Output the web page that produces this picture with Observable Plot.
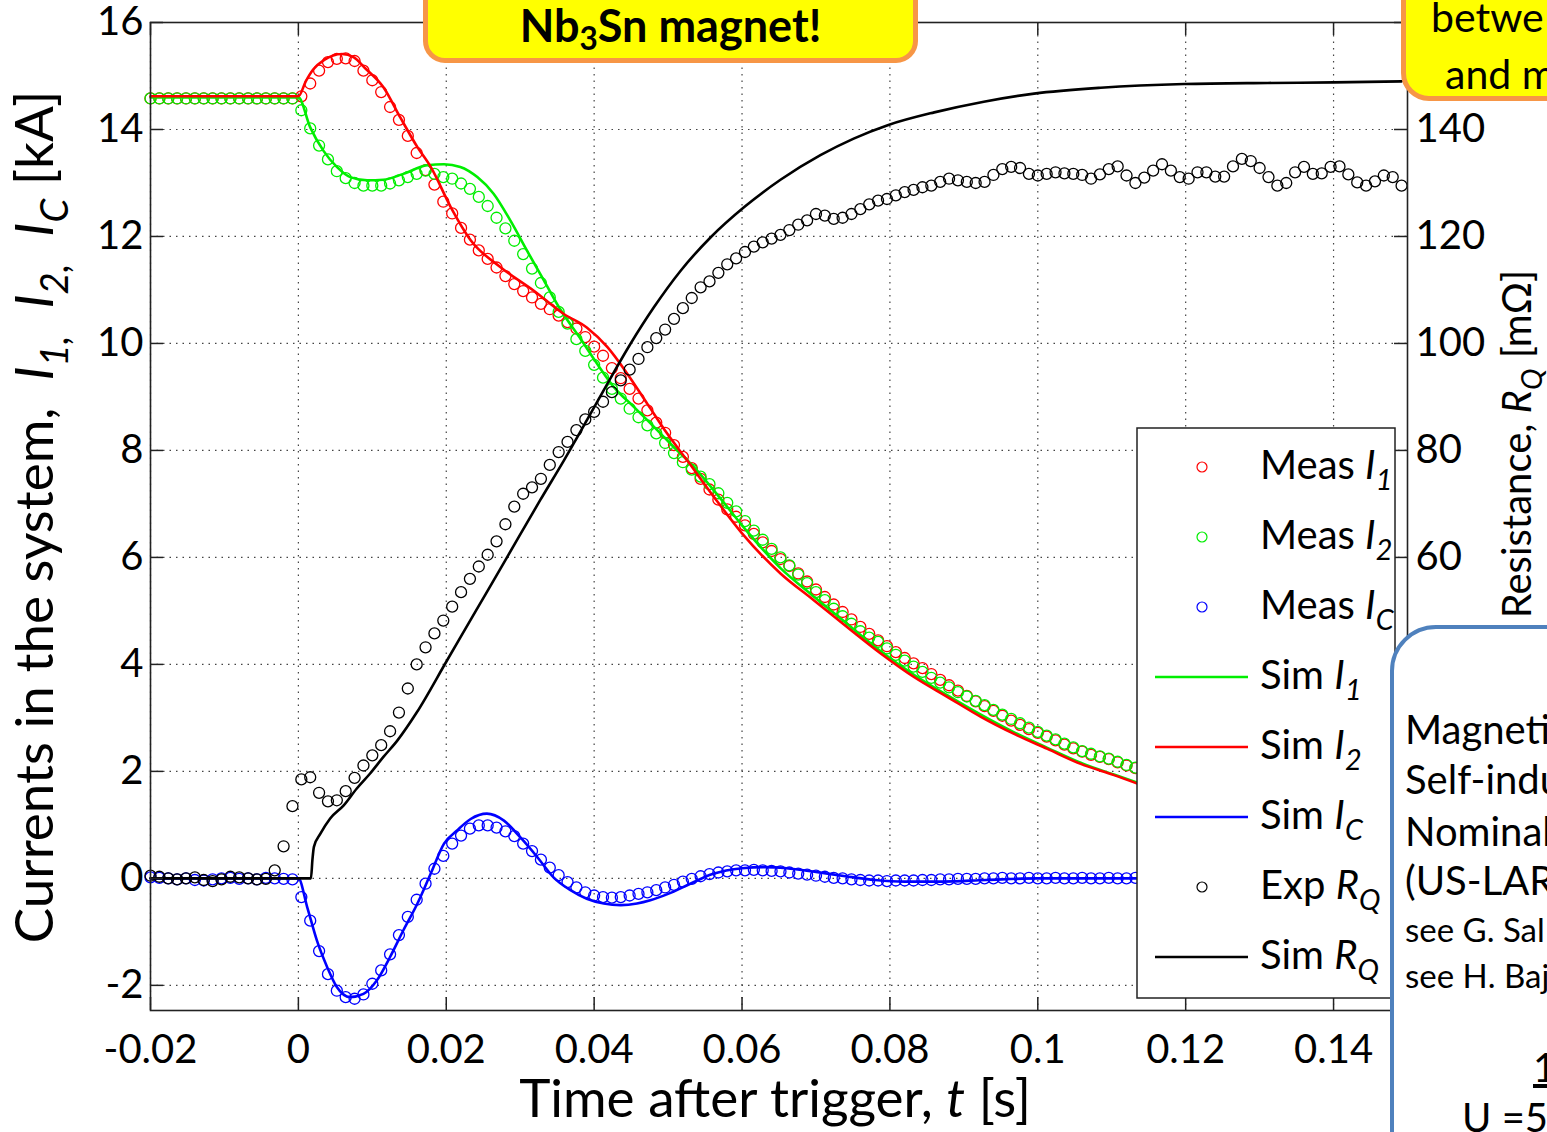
<!DOCTYPE html>
<html><head><meta charset="utf-8">
<script src="https://cdn.jsdelivr.net/npm/d3@7"></script>
<script src="https://cdn.jsdelivr.net/npm/@observablehq/plot@0.6"></script>
<style>
html,body{margin:0;padding:0;background:#fff;}
#wrap{position:relative;width:1547px;height:1132px;overflow:hidden;font-family:Lato,sans-serif;}
#wrap svg{position:absolute;left:0;top:0;}
.box{position:absolute;box-sizing:border-box;}
.t{position:absolute;white-space:nowrap;line-height:1;color:#000;}
.t sub{font-size:0.7em;vertical-align:-0.25em;line-height:0;}
</style></head><body><div id="wrap"></div>
<script>
// ---- measured sample times (s) ----
const tMeas = [-0.0200,-0.0188,-0.0176,-0.0164,-0.0152,-0.0140,-0.0128,-0.0116,-0.0104,-0.0092,
-0.0080,-0.0068,-0.0056,-0.0044,-0.0032,-0.0020,-0.0008,0.0004,0.0016,0.0028,
0.0040,0.0052,0.0064,0.0076,0.0088,0.0100,0.0112,0.0124,0.0136,0.0148,
0.0160,0.0172,0.0184,0.0196,0.0208,0.0220,0.0232,0.0244,0.0256,0.0268,
0.0280,0.0292,0.0304,0.0316,0.0328,0.0340,0.0352,0.0364,0.0376,0.0388,
0.0400,0.0412,0.0424,0.0436,0.0448,0.0460,0.0472,0.0484,0.0496,0.0508,
0.0520,0.0532,0.0544,0.0556,0.0568,0.0580,0.0592,0.0604,0.0616,0.0628,
0.0640,0.0652,0.0664,0.0676,0.0688,0.0700,0.0712,0.0724,0.0736,0.0748,
0.0760,0.0772,0.0784,0.0796,0.0808,0.0820,0.0832,0.0844,0.0856,0.0868,
0.0880,0.0892,0.0904,0.0916,0.0928,0.0940,0.0952,0.0964,0.0976,0.0988,
0.1000,0.1012,0.1024,0.1036,0.1048,0.1060,0.1072,0.1084,0.1096,0.1108,
0.1120,0.1132,0.1144,0.1156,0.1168,0.1180,0.1192,0.1204,0.1216,0.1228,
0.1240,0.1252,0.1264,0.1276,0.1288,0.1300,0.1312,0.1324,0.1336,0.1348,
0.1360,0.1372,0.1384,0.1396,0.1408,0.1420,0.1432,0.1444,0.1456,0.1468,
0.1480,0.1492];

// Meas I1 (kA), red circles
const measI1 = [14.58,14.58,14.58,14.58,14.58,14.58,14.58,14.58,14.58,14.58,14.58,14.58,14.58,14.58,14.58,14.58,14.58,
14.62,14.86,15.1,15.26,15.32,15.33,15.28,15.1,14.92,14.7,14.42,14.18,13.88,13.56,13.24,12.97,12.65,12.43,12.16,
11.94,11.74,11.58,11.42,11.26,11.11,10.98,10.86,10.74,10.64,10.52,10.4,10.28,10.12,9.94,9.77,9.54,9.35,9.15,
8.97,8.75,8.52,8.33,8.1,7.88,7.67,7.47,7.27,7.08,6.9,6.76,6.6,6.44,6.28,6.12,5.97,5.84,5.7,5.55,5.4,5.26,5.12,
4.98,4.84,4.7,4.57,4.45,4.34,4.23,4.12,4.02,3.93,3.82,3.71,3.61,3.51,3.41,3.31,3.22,3.13,3.04,2.95,2.87,2.79,
2.72,2.65,2.58,2.5,2.43,2.37,2.31,2.27,2.23,2.17,2.11,2.06,2.02];

// Meas I2 (kA), green circles
const measI2 = [14.58,14.58,14.58,14.58,14.58,14.58,14.58,14.58,14.58,14.58,14.58,14.58,14.58,14.58,14.58,14.58,14.58,
14.36,14.02,13.7,13.44,13.22,13.09,13.0,12.95,12.95,12.95,12.99,13.05,13.11,13.17,13.23,13.17,13.11,13.08,12.99,
12.89,12.74,12.57,12.35,12.15,11.92,11.67,11.4,11.13,10.86,10.59,10.37,10.08,9.86,9.6,9.36,9.15,8.97,8.78,
8.62,8.47,8.32,8.14,7.95,7.78,7.64,7.51,7.37,7.2,7.02,6.86,6.68,6.5,6.33,6.16,6.0,5.85,5.68,5.52,5.35,5.2,5.04,
4.9,4.76,4.62,4.5,4.42,4.3,4.18,4.07,3.96,3.86,3.75,3.66,3.57,3.48,3.4,3.32,3.24,3.15,3.06,2.98,2.9,2.82,
2.74,2.67,2.6,2.52,2.45,2.38,2.33,2.28,2.24,2.18,2.12,2.07,2.03];

// Meas IC (kA), blue circles
const measIC = [0.02,0.01,0,-0.02,0,-0.03,-0.04,-0.02,0,0.01,-0.01,0,-0.02,0.01,0,-0.01,-0.02,
-0.35,-0.79,-1.36,-1.79,-2.1,-2.22,-2.25,-2.17,-1.97,-1.72,-1.42,-1.06,-0.72,-0.4,-0.1,0.18,0.42,0.65,0.8,
0.93,0.99,0.99,0.95,0.88,0.79,0.65,0.51,0.35,0.2,0.06,-0.07,-0.17,-0.26,-0.32,-0.35,-0.36,-0.35,-0.32,
-0.29,-0.26,-0.22,-0.17,-0.12,-0.06,-0.01,0.04,0.08,0.11,0.13,0.15,0.15,0.16,0.15,0.14,0.13,0.11,0.09,0.07,0.05,0.03,0.01,
0,-0.02,-0.03,-0.04,-0.04,-0.05,-0.04,-0.04,-0.04,-0.03,-0.03,-0.02,-0.02,-0.01,-0.01,-0.01,0,0,0.01,0,0,0.01,
0,0,0.01,0,0,0.01,0,0,0.01,0,0,0.01,0];

// Exp RQ (mOhm), black circles
const measRQ = [0.5,0.3,0,-0.2,0,0.2,-0.3,-0.5,-0.2,0.3,0.2,0,-0.2,-0.1,
1.5,6.0,13.5,18.5,18.9,16.0,14.4,14.6,16.3,18.8,21.1,23.0,24.9,27.5,31.0,35.5,40.0,43.2,45.8,48.2,50.8,53.5,
56.0,58.3,60.5,63.0,66.2,69.5,71.9,73.1,74.7,77.3,79.7,81.6,83.8,85.8,87.2,89.1,90.9,93.1,95.1,97.1,99.3,
101.0,102.6,104.6,106.6,108.5,110.5,111.6,113.2,114.8,115.9,117.1,118.1,118.9,119.6,120.3,121.2,122.2,123.0,
124.2,123.9,123.3,123.5,124.2,125.1,126.0,126.7,127.0,127.7,128.3,128.7,129.2,129.5,130.2,130.8,130.5,130.2,
130.0,130.2,131.5,132.6,133.0,132.8,131.7,131.4,131.7,132.0,131.8,131.7,131.5,130.8,131.6,132.6,133.1,131.4,
130.0,131.0,132.3,133.5,132.3,131.1,130.8,132.0,132.0,131.2,131.2,133.1,134.5,134.1,132.8,131.1,129.5,130.0,
132.0,133.0,131.7,131.8,133.0,133.1,131.6,130.1,129.5,130.3,131.4,131.1,129.5];

// Simulations
const simI1T = [-0.02,0,0.0016,0.0034,0.0052,0.007,0.0093,0.0115,0.0142,0.0174,0.0197,0.0219,0.0242,0.0264,0.0287,0.0309,0.0332,0.0355,0.038,0.0404,0.0427,0.0454,0.0481,0.0508,0.0535,0.0571,0.06,0.0652,0.0697,0.0742,0.0788,0.0833,0.0878,0.0923,0.0968,0.1013,0.1058,0.1103,0.1135];
const simI1V = [14.6,14.6,14.04,13.6,13.3,13.11,13.05,13.06,13.17,13.33,13.35,13.3,13.11,12.8,12.29,11.74,11.18,10.62,10.12,9.62,9.18,8.81,8.44,8.06,7.69,7.1,6.6,5.8,5.27,4.76,4.24,3.8,3.42,3.06,2.73,2.44,2.16,1.94,1.79];
const simI2T = [-0.02,0,0.001,0.002,0.0035,0.0059,0.0075,0.009,0.0115,0.0138,0.0161,0.0179,0.0206,0.0233,0.0273,0.0318,0.0359,0.039,0.0418,0.0445,0.0472,0.0499,0.0526,0.0562,0.06,0.0652,0.0697,0.0742,0.0788,0.0833,0.0878,0.0923,0.0968,0.1013,0.1058,0.1103,0.1135];
const simI2V = [14.62,14.62,14.9,15.12,15.3,15.41,15.35,15.15,14.79,14.22,13.67,13.3,12.55,11.93,11.43,10.99,10.55,10.3,9.93,9.43,8.87,8.31,7.81,7.13,6.45,5.7,5.2,4.7,4.2,3.76,3.39,3.02,2.7,2.42,2.14,1.93,1.77];
const simICT = [-0.02,0,0.0012,0.0025,0.0039,0.0052,0.007,0.0088,0.0106,0.0124,0.0142,0.0161,0.0179,0.0197,0.0215,0.0233,0.0255,0.0278,0.03,0.0323,0.0345,0.0368,0.039,0.0413,0.0436,0.0458,0.0476,0.05,0.053,0.056,0.06,0.063,0.066,0.07,0.074,0.078,0.082,0.087,0.093,0.1,0.1135];
const simICV = [0,0,-0.54,-1.16,-1.66,-2.03,-2.22,-2.16,-1.91,-1.47,-0.97,-0.47,0.09,0.65,0.9,1.11,1.21,1.08,0.77,0.4,0.02,-0.22,-0.38,-0.47,-0.5,-0.47,-0.41,-0.29,-0.1,0.08,0.19,0.21,0.19,0.12,0.04,-0.03,-0.06,-0.06,-0.03,0,0];
const simRQT = [-0.02,0.0017,0.0019,0.0021,0.003,0.0043,0.0061,0.0079,0.0097,0.0115,0.0134,0.016,0.02,0.024,0.028,0.0327,0.0359,0.039,0.0418,0.0449,0.0481,0.0517,0.0558,0.0603,0.0652,0.0706,0.0751,0.0797,0.086,0.0927,0.0995,0.1085,0.1198,0.1311,0.14,0.1492];
const simRQV = [0,0,3.5,5.9,8.4,11.2,13.6,16.8,19.6,22.7,25.8,31.0,40.5,50.0,59.5,70.7,78.1,85.6,92.5,99.9,106.8,113.6,119.9,125.5,130.6,135.2,138.3,140.8,143.2,145.2,146.7,147.8,148.5,148.7,148.8,149.0];

// Axes ticks
const xTicks = [-0.02,0,0.02,0.04,0.06,0.08,0.1,0.12,0.14];
const yTicks = [-2,0,2,4,6,8,10,12,14,16];
const rTicks = [-20,0,20,40,60,80,100,120,140,160];

const RED = "#ff0000", GREEN = "#00ee00", BLUE = "#0000ff", BLACK = "#000000";
const rows = (ts, vs, f = v => v) => vs.map((v, i) => ({t: ts[i], v: f(v)}));
const dI1 = rows(tMeas, measI1), dI2 = rows(tMeas, measI2), dIC = rows(tMeas, measIC);
const dRQ = rows(tMeas, measRQ, v => v / 10);
const sI1 = rows(simI1T, simI1V), sI2 = rows(simI2T, simI2V), sIC = rows(simICT, simICV);
const sRQ = rows(simRQT, simRQV, v => v / 10);

const W = 1547, H = 1132, ML = 150, MR = 140, MT = 22, MB = 122;
const PW = W - ML - MR, PH = H - MT - MB;
const TK = 13;
const dotOpt = (c) => ({x: "t", y: "v", r: 5.5, stroke: c, strokeWidth: 1.3, fill: "none"});
const lineOpt = (c) => ({x: "t", y: "v", stroke: c, strokeWidth: 2.6, curve: "monotone-x"});
const fmt = d => String(d);

const chart = Plot.plot({
  width: W, height: H,
  marginLeft: ML, marginRight: MR, marginTop: MT, marginBottom: MB,
  x: {domain: [-0.02, 0.15], label: null},
  y: {domain: [-2.47, 16], label: null},
  style: {fontFamily: "Lato, sans-serif", fontSize: "40px", background: "white", color: "black"},
  marks: [
    Plot.gridX({ticks: xTicks, stroke: "#444", strokeOpacity: 1, strokeWidth: 1.2, strokeDasharray: "1.5,5"}),
    Plot.gridY({ticks: yTicks, stroke: "#444", strokeOpacity: 1, strokeWidth: 1.2, strokeDasharray: "1.5,5"}),
    Plot.dot(dI1, dotOpt(RED)),
    Plot.dot(dI2, dotOpt(GREEN)),
    Plot.dot(dIC, dotOpt(BLUE)),
    Plot.line(sI1, lineOpt(GREEN)),
    Plot.line(sI2, lineOpt(RED)),
    Plot.line(sIC, lineOpt(BLUE)),
    Plot.dot(dRQ, dotOpt(BLACK)),
    Plot.line(sRQ, lineOpt(BLACK)),
    Plot.tickY(yTicks, {y: d => d, insetRight: PW - TK, stroke: "#222", strokeWidth: 1.5}),
    Plot.tickY(rTicks, {y: d => d / 10, insetLeft: PW - TK, stroke: "#222", strokeWidth: 1.5}),
    Plot.tickX(xTicks, {x: d => d, insetTop: PH - TK, stroke: "#222", strokeWidth: 1.5}),
    Plot.tickX(xTicks, {x: d => d, insetBottom: PH - TK, stroke: "#222", strokeWidth: 1.5}),
    Plot.frame({stroke: "#222", strokeWidth: 1.6}),
    Plot.axisX({ticks: xTicks, tickSize: 0, tickPadding: 24, tickFormat: fmt, label: null, fontSize: 40}),
    Plot.axisY({ticks: yTicks, tickSize: 0, tickPadding: 7, tickFormat: fmt, label: null, fontSize: 40}),
    Plot.axisY({ticks: rTicks.map(r => r / 10), anchor: "right", tickSize: 0, tickPadding: 8,
      tickFormat: d => String(Math.round(d * 10)), label: null, fontSize: 40})
  ]
});

const wrap = document.getElementById("wrap");
wrap.appendChild(chart);

// ---- rich text helpers (axis titles, legend) ----
const svg = d3.select(chart);
function addRich(sel, parts, base) {
  let shifted = false;
  for (const [str, st] of parts) {
    const ts = sel.append("tspan").text(str);
    if (st === "i" || st === "s") ts.attr("font-style", "italic");
    if (st === "s") {
      ts.attr("font-size", base * 0.72);
      if (!shifted) { ts.attr("dy", base * 0.28); shifted = true; }
    } else if (shifted) { ts.attr("dy", -base * 0.28); shifted = false; }
  }
}
const g = svg.append("g").attr("font-family", "Lato, sans-serif").attr("fill", "black");

// Y-axis title (left)
const yl = g.append("text").attr("transform", "translate(53,517) rotate(-90)")
  .attr("text-anchor", "middle").attr("font-size", 53);
addRich(yl, [["Currents in the system,  "], ["I", "i"], ["1,", "s"], ["  "], ["I", "i"], ["2,", "s"], ["  "], ["I", "i"], ["C", "s"], [" [kA]"]], 53);

// X-axis title
const xl = g.append("text").attr("x", 775).attr("y", 1117).attr("text-anchor", "middle").attr("font-size", 53);
addRich(xl, [["Time after trigger, "], ["t", "i"], [" [s]"]], 53);

// Right axis title
const rl = g.append("text").attr("transform", "translate(1531,444) rotate(-90)")
  .attr("text-anchor", "middle").attr("font-size", 40);
addRich(rl, [["Resistance, "], ["R", "i"], ["Q", "s"], [" [m\u03A9]"]], 40);

// Legend
const lg = g.append("g");
lg.append("rect").attr("x", 1137).attr("y", 428).attr("width", 258).attr("height", 570)
  .attr("fill", "white").attr("stroke", "#222").attr("stroke-width", 1.5);
const legendItems = [
  {kind: "dot", c: RED, label: [["Meas "], ["I", "i"], ["1", "s"]]},
  {kind: "dot", c: GREEN, label: [["Meas "], ["I", "i"], ["2", "s"]]},
  {kind: "dot", c: BLUE, label: [["Meas "], ["I", "i"], ["C", "s"]]},
  {kind: "line", c: GREEN, label: [["Sim "], ["I", "i"], ["1", "s"]]},
  {kind: "line", c: RED, label: [["Sim "], ["I", "i"], ["2", "s"]]},
  {kind: "line", c: BLUE, label: [["Sim "], ["I", "i"], ["C", "s"]]},
  {kind: "dot", c: BLACK, label: [["Exp "], ["R", "i"], ["Q", "s"]]},
  {kind: "line", c: BLACK, label: [["Sim "], ["R", "i"], ["Q", "s"]]}
];
legendItems.forEach((it, i) => {
  const cy = 467 + i * 70;
  if (it.kind === "dot") {
    lg.append("circle").attr("cx", 1202).attr("cy", cy).attr("r", 5)
      .attr("fill", "none").attr("stroke", it.c).attr("stroke-width", 1.2);
  } else {
    lg.append("line").attr("x1", 1155).attr("x2", 1248).attr("y1", cy).attr("y2", cy)
      .attr("stroke", it.c).attr("stroke-width", 2.6);
  }
  const tx = lg.append("text").attr("x", 1260).attr("y", cy + 12).attr("font-size", 40)
    .attr("text-anchor", "start");
  addRich(tx, it.label, 40);
});

// ---- slide overlays ----
function addDiv(cls, style, html) {
  const d = document.createElement("div");
  d.className = cls; d.setAttribute("style", style); d.innerHTML = html || "";
  wrap.appendChild(d);
}
// "Nb3Sn magnet!" call-out
addDiv("box", "left:423px;top:-40px;width:495px;height:103px;background:#ffff00;border:5px solid #f79646;border-radius:22px;");
addDiv("t", "left:423px;width:495px;text-align:center;top:3px;font-size:45px;font-weight:700;", "Nb<sub>3</sub>Sn magnet!");
// top-right call-out (cut off)
addDiv("box", "left:1401px;top:-40px;width:300px;height:141px;background:#ffff00;border:5px solid #f79646;border-radius:28px;");
addDiv("t", "left:1431px;top:-4px;font-size:41px;", "betwe");
addDiv("t", "left:1445px;top:53px;font-size:41px;", "and m");
// bottom-right info box (cut off)
addDiv("box", "left:1390px;top:625px;width:400px;height:700px;background:#fff;border:4px solid #4f81bd;border-radius:46px;");
addDiv("t", "left:1405px;top:709px;font-size:40px;", "Magneti");
addDiv("t", "left:1405px;top:759px;font-size:40px;", "Self-indu");
addDiv("t", "left:1405px;top:811px;font-size:40px;", "Nominal");
addDiv("t", "left:1405px;top:860px;font-size:40px;", "(US-LARI");
addDiv("t", "left:1405px;top:913px;font-size:33px;", "see G. Sal");
addDiv("t", "left:1405px;top:959px;font-size:33px;", "see H. Baj");
addDiv("t", "left:1533px;top:1047px;font-size:40px;text-decoration:underline;", "1");
addDiv("t", "left:1462px;top:1097px;font-size:40px;", "U =5(");
</script></body></html>
